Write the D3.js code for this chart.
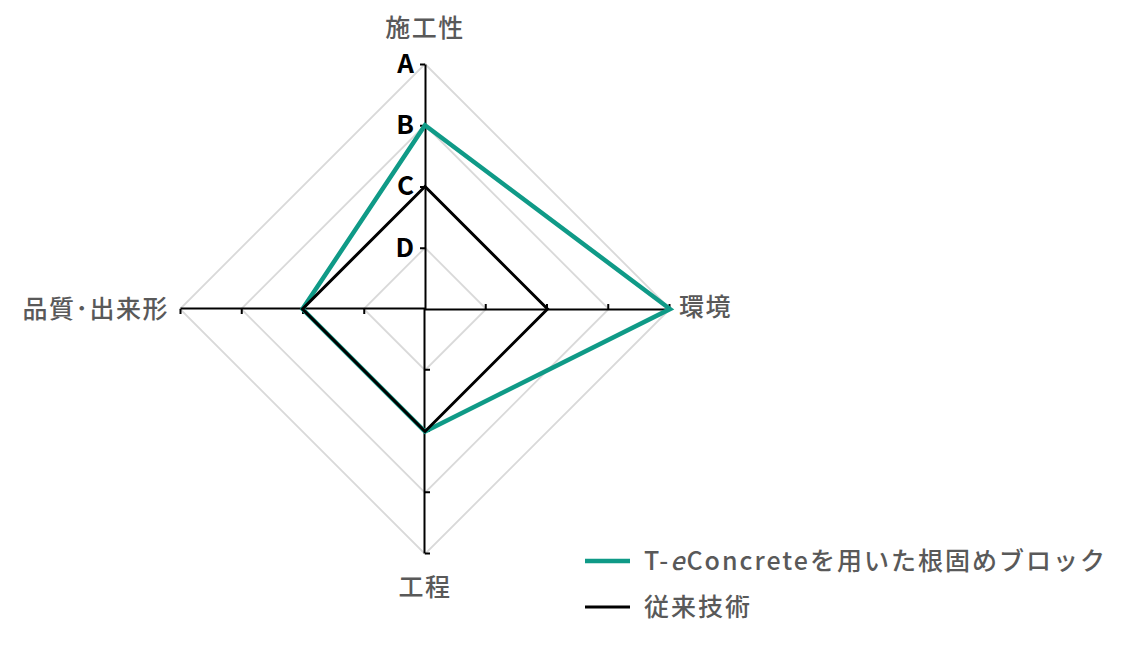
<!DOCTYPE html>
<html>
<head>
<meta charset="utf-8">
<script src="https://cdn.jsdelivr.net/npm/d3@7"></script>
<style>
  body { margin: 0; background: #fff; }
  text { font-family: "Noto Sans CJK JP", "Noto Sans", sans-serif; }
</style>
</head>
<body>
<div id="chart"></div>
<script>
// axes, clockwise from the top
let categories = ["施工性", "環境", "工程", "品質･出来形"];
let gradeLabels = ["D", "C", "B", "A"]; // values 1..4
let seriesNames = ["T-eConcreteを用いた根固めブロック", "従来技術"];
let teConcrete = [3, 4, 2, 2];
let conventional = [2, 2, 2, 2];

let width = 1136, height = 646;
let cx = 425, cy = 309, R = 245;

let svg = d3.select("#chart")
  .append("svg")
    .attr("width", width)
    .attr("height", height);

let r = d3.scaleLinear().domain([0, 4]).range([0, R]);
let angle = d3.scaleLinear().domain([0, categories.length]).range([0, 2 * Math.PI]);

let g = svg.append("g")
  .attr("transform", "translate(" + cx + "," + cy + ")");

// grid diamonds
let radial = d3.lineRadial()
  .angle(function(d, i) { return angle(i); })
  .radius(function(d) { return r(d); })
  .curve(d3.curveLinearClosed);

[1, 2, 3, 4].forEach(function(lv) {
  g.append("path")
    .attr("d", radial(categories.map(function() { return lv; })))
    .attr("fill", "none")
    .attr("stroke", "#d9d9d9")
    .attr("stroke-width", 1.8);
});

// axes: one left axis, rotated for each category
let yAxisScale = d3.scaleLinear().domain([0, 4]).range([0, -R]);
categories.forEach(function(c, i) {
  let ax = g.append("g")
    .attr("transform", "rotate(" + (i * 90) + ")")
    .call(d3.axisLeft(yAxisScale)
      .tickValues([1, 2, 3, 4])
      .tickSize(5)
      .tickSizeOuter(0)
      .tickPadding(6)
      .tickFormat(function(d) { return i === 0 ? gradeLabels[d - 1] : ""; }));
  ax.select(".domain").attr("stroke", "#000").attr("stroke-width", 2);
  ax.selectAll(".tick line").attr("stroke", "#000").attr("stroke-width", 2);
  ax.selectAll(".tick text")
    .attr("fill", "#000")
    .style("font-size", "26px")
    .style("font-weight", "bold")
    .style("font-family", "'Noto Sans CJK JP', sans-serif");
});

// series
g.append("path")
  .attr("d", radial(teConcrete))
  .attr("fill", "none")
  .attr("stroke", "#0f9a87")
  .attr("stroke-width", 4.5);

g.append("path")
  .attr("d", radial(conventional))
  .attr("fill", "none")
  .attr("stroke", "#000")
  .attr("stroke-width", 3);

// category labels
let labelPos = [
  {x: 0, y: -R - 36, anchor: "middle"},
  {x: R + 9, y: -2, anchor: "start"},
  {x: 0, y: R + 33, anchor: "middle"},
  {x: -R - 11, y: 0, anchor: "end"}
];
categories.forEach(function(c, i) {
  g.append("text")
    .attr("x", labelPos[i].x)
    .attr("y", labelPos[i].y)
    .attr("dy", "0.35em")
    .attr("text-anchor", labelPos[i].anchor)
    .attr("fill", "#595959")
    .style("font-size", "25px")
    .style("font-weight", "500")
    .style("letter-spacing", "1.5px")
    .text(c);
});

// legend
let legendColors = ["#0f9a87", "#000"];
let legendWidths = [4.5, 3];
let legend = svg.append("g").attr("transform", "translate(585,561)");
seriesNames.forEach(function(s, i) {
  let row = legend.append("g").attr("transform", "translate(0," + (i * 46) + ")");
  row.append("line")
    .attr("x1", 0).attr("x2", 45)
    .attr("stroke", legendColors[i])
    .attr("stroke-width", legendWidths[i]);
  let t = row.append("text")
    .attr("x", 59)
    .attr("dy", "0.35em")
    .attr("fill", "#595959")
    .style("font-size", "25px")
    .style("font-weight", "500")
    .style("letter-spacing", "2px");
  if (i === 0) {
    t.append("tspan").text("T-");
    t.append("tspan").style("font-style", "italic").text("e");
    t.append("tspan").text(s.slice(3));
  } else {
    t.text(s);
  }
});
</script>
</body>
</html>
